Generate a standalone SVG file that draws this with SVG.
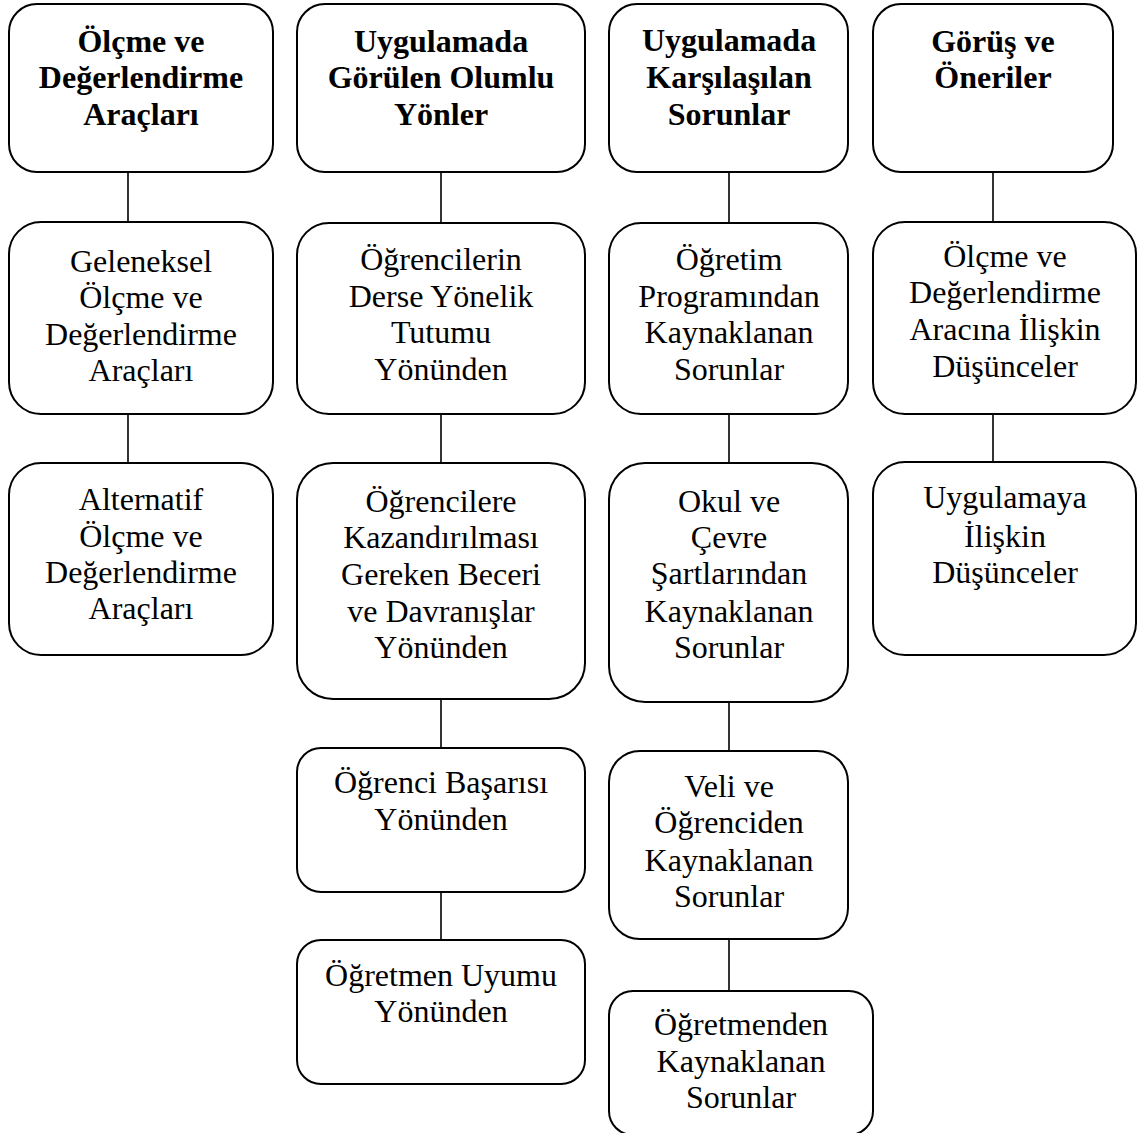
<svg xmlns="http://www.w3.org/2000/svg" width="1138" height="1133" viewBox="0 0 1138 1133">
<style>
.box{fill:#fff;stroke:#000;stroke-width:2}
.t{font-family:"Liberation Serif","Times New Roman",serif;font-size:32px;fill:#000;text-anchor:middle}
.b{font-weight:bold}
.c{stroke:#000;stroke-width:1.6;fill:none}
</style>
<rect width="1138" height="1133" fill="#fff"/>
<g id="connectors">
<line class="c" x1="128" y1="172" x2="128" y2="222"/>
<line class="c" x1="128" y1="414" x2="128" y2="463"/>
<line class="c" x1="441" y1="172" x2="441" y2="223"/>
<line class="c" x1="441" y1="414" x2="441" y2="463"/>
<line class="c" x1="441" y1="699" x2="441" y2="748"/>
<line class="c" x1="441" y1="892" x2="441" y2="940"/>
<line class="c" x1="729" y1="172" x2="729" y2="223"/>
<line class="c" x1="729" y1="414" x2="729" y2="463"/>
<line class="c" x1="729" y1="702" x2="729" y2="751"/>
<line class="c" x1="729" y1="939" x2="729" y2="991"/>
<line class="c" x1="993" y1="172" x2="993" y2="222"/>
<line class="c" x1="993" y1="414" x2="993" y2="462"/>
</g>
<g id="c1h"><rect class="box" x="9" y="4" width="264" height="168" rx="28"/>
<text class="t b" x="141"><tspan x="141" y="52">Ölçme ve</tspan><tspan x="141" y="88">Değerlendirme</tspan><tspan x="141" y="125">Araçları</tspan></text></g>
<g id="c1b2"><rect class="box" x="9" y="222" width="264" height="192" rx="32"/>
<text class="t" x="141"><tspan x="141" y="272">Geleneksel</tspan><tspan x="141" y="308">Ölçme ve</tspan><tspan x="141" y="345">Değerlendirme</tspan><tspan x="141" y="381">Araçları</tspan></text></g>
<g id="c1b3"><rect class="box" x="9" y="463" width="264" height="192" rx="32"/>
<text class="t" x="141"><tspan x="141" y="510">Alternatif</tspan><tspan x="141" y="547">Ölçme ve</tspan><tspan x="141" y="583">Değerlendirme</tspan><tspan x="141" y="619">Araçları</tspan></text></g>
<g id="c2h"><rect class="box" x="297" y="4" width="288" height="168" rx="28"/>
<text class="t b" x="441"><tspan x="441" y="52">Uygulamada</tspan><tspan x="441" y="88">Görülen Olumlu</tspan><tspan x="441" y="125">Yönler</tspan></text></g>
<g id="c2b2"><rect class="box" x="297" y="223" width="288" height="191" rx="32"/>
<text class="t" x="441"><tspan x="441" y="270">Öğrencilerin</tspan><tspan x="441" y="307">Derse Yönelik</tspan><tspan x="441" y="343">Tutumu</tspan><tspan x="441" y="380">Yönünden</tspan></text></g>
<g id="c2b3"><rect class="box" x="297" y="463" width="288" height="236" rx="36"/>
<text class="t" x="441"><tspan x="441" y="512">Öğrencilere</tspan><tspan x="441" y="548">Kazandırılması</tspan><tspan x="441" y="585">Gereken Beceri</tspan><tspan x="441" y="622">ve Davranışlar</tspan><tspan x="441" y="658">Yönünden</tspan></text></g>
<g id="c2b4"><rect class="box" x="297" y="748" width="288" height="144" rx="24"/>
<text class="t" x="441"><tspan x="441" y="793">Öğrenci Başarısı</tspan><tspan x="441" y="830">Yönünden</tspan></text></g>
<g id="c2b5"><rect class="box" x="297" y="940" width="288" height="144" rx="24"/>
<text class="t" x="441"><tspan x="441" y="986">Öğretmen Uyumu</tspan><tspan x="441" y="1022">Yönünden</tspan></text></g>
<g id="c3h"><rect class="box" x="609" y="4" width="239" height="168" rx="28"/>
<text class="t b" x="729"><tspan x="729" y="51">Uygulamada</tspan><tspan x="729" y="88">Karşılaşılan</tspan><tspan x="729" y="125">Sorunlar</tspan></text></g>
<g id="c3b2"><rect class="box" x="609" y="223" width="239" height="191" rx="32"/>
<text class="t" x="729"><tspan x="729" y="270">Öğretim</tspan><tspan x="729" y="307">Programından</tspan><tspan x="729" y="343">Kaynaklanan</tspan><tspan x="729" y="380">Sorunlar</tspan></text></g>
<g id="c3b3"><rect class="box" x="609" y="463" width="239" height="239" rx="36"/>
<text class="t" x="729"><tspan x="729" y="512">Okul ve</tspan><tspan x="729" y="548">Çevre</tspan><tspan x="729" y="584">Şartlarından</tspan><tspan x="729" y="622">Kaynaklanan</tspan><tspan x="729" y="658">Sorunlar</tspan></text></g>
<g id="c3b4"><rect class="box" x="609" y="751" width="239" height="188" rx="31"/>
<text class="t" x="729"><tspan x="729" y="797">Veli ve</tspan><tspan x="729" y="833">Öğrenciden</tspan><tspan x="729" y="871">Kaynaklanan</tspan><tspan x="729" y="907">Sorunlar</tspan></text></g>
<g id="c3b5"><rect class="box" x="609" y="991" width="264" height="144" rx="24"/>
<text class="t" x="741"><tspan x="741" y="1035">Öğretmenden</tspan><tspan x="741" y="1072">Kaynaklanan</tspan><tspan x="741" y="1108">Sorunlar</tspan></text></g>
<g id="c4h"><rect class="box" x="873" y="4" width="240" height="168" rx="28"/>
<text class="t b" x="993"><tspan x="993" y="52">Görüş ve</tspan><tspan x="993" y="88">Öneriler</tspan></text></g>
<g id="c4b2"><rect class="box" x="873" y="222" width="263" height="192" rx="32"/>
<text class="t" x="1005"><tspan x="1005" y="267">Ölçme ve</tspan><tspan x="1005" y="303">Değerlendirme</tspan><tspan x="1005" y="340">Aracına İlişkin</tspan><tspan x="1005" y="377">Düşünceler</tspan></text></g>
<g id="c4b3"><rect class="box" x="873" y="462" width="263" height="193" rx="32"/>
<text class="t" x="1005"><tspan x="1005" y="508">Uygulamaya</tspan><tspan x="1005" y="547">İlişkin</tspan><tspan x="1005" y="583">Düşünceler</tspan></text></g>
</svg>
